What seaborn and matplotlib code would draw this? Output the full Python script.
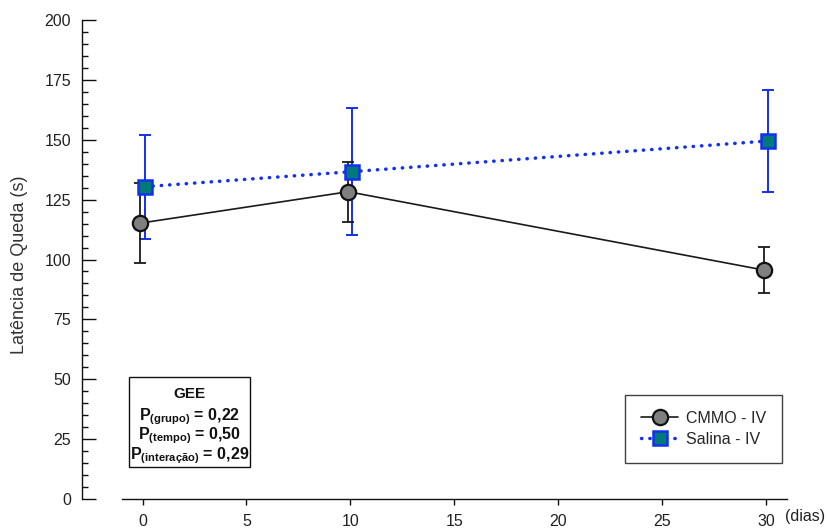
import matplotlib
matplotlib.use("Agg")
import matplotlib.pyplot as plt
from matplotlib.patches import Rectangle
from matplotlib.ticker import MultipleLocator
import seaborn as sns
import pandas as pd

# Latency to fall (s) per group at each evaluation day
dias = [0, 10, 30]
cmmo_media = [115.2, 128.3, 95.6]
cmmo_erro = [16.6, 12.6, 9.5]
salina_media = [130.4, 136.7, 149.5]
salina_erro = [21.7, 26.4, 21.4]

grupos = ["CMMO - IV", "Salina - IV"]
gee_rotulos = ["grupo", "tempo", "interação"]
gee_valores = ["0,22", "0,50", "0,29"]

sns.set_theme(style="ticks")
plt.rcParams["font.family"] = ["Liberation Sans", "DejaVu Sans"]
plt.rcParams["mathtext.fontset"] = "custom"
plt.rcParams["mathtext.rm"] = "Liberation Sans"
plt.rcParams["mathtext.it"] = "Liberation Sans:italic"
plt.rcParams["mathtext.bf"] = "Liberation Sans:bold"

df = pd.DataFrame({
    "dia": dias * 2,
    "latencia": cmmo_media + salina_media,
    "erro": cmmo_erro + salina_erro,
    "grupo": [grupos[0]] * 3 + [grupos[1]] * 3,
})
# small horizontal dodge so the two groups don't overlap
df["x"] = df["dia"] + df["grupo"].map({grupos[0]: -0.1, grupos[1]: 0.1})

fig = plt.figure(figsize=(8.28, 5.29), dpi=100)
ax = fig.add_axes([0.0994, 0.0567, 0.8507, 0.9055])

azul = "#1330f0"
estilos = {
    grupos[0]: dict(color="#1a1a1a", lw=1.2, ls="-", marker="o", ms=11,
                    mfc="#7f7f7f", mec="#111111", mew=1.6, ecol="#1a1a1a", elw=1.3, z=4),
    grupos[1]: dict(color=azul, lw=2.5, ls=(0, (0.1, 2.3)), marker="s", ms=10,
                    mfc="#007a78", mec=azul, mew=1.8, ecol=azul, elw=1.4, z=3),
}

for g in grupos:
    sub = df[df["grupo"] == g]
    st = estilos[g]
    ax.errorbar(sub["x"], sub["latencia"], yerr=sub["erro"], fmt="none",
                ecolor=st["ecol"], elinewidth=st["elw"], capsize=4.5,
                capthick=st["elw"], zorder=st["z"] - 1)
    sns.lineplot(data=sub, x="x", y="latencia", ax=ax, color=st["color"],
                 linewidth=st["lw"], linestyle=st["ls"], marker=st["marker"],
                 markersize=st["ms"], markerfacecolor=st["mfc"],
                 markeredgecolor=st["mec"], markeredgewidth=st["mew"],
                 dash_capstyle="round", label=g, zorder=st["z"], errorbar=None)

ax.set_xlim(-2.9, 31)
ax.set_ylim(0, 200)
ax.spines["top"].set_visible(False)
ax.spines["right"].set_visible(False)
ax.spines["left"].set_bounds(0, 200)
ax.spines["bottom"].set_bounds(-1, 31)
for s in ("left", "bottom"):
    ax.spines[s].set_linewidth(1.0)
    ax.spines[s].set_color("#111111")

ax.set_xticks([0, 5, 10, 15, 20, 25, 30])
ax.yaxis.set_major_locator(MultipleLocator(25))
ax.yaxis.set_minor_locator(MultipleLocator(5))
ax.tick_params(axis="y", which="major", direction="in", length=10, width=1.0,
               pad=8, labelsize=11.5, colors="#111111", labelcolor="#222222")
ax.tick_params(axis="y", which="minor", direction="in", length=4.5, width=1.0,
               colors="#111111")
ax.tick_params(axis="x", which="major", direction="out", length=4.5, width=1.0,
               pad=6, labelsize=11.5, colors="#111111", labelcolor="#222222")

ax.set_xlabel("")
ax.set_ylabel("Latência de Queda (s)", fontsize=13, color="#333333")
ax.yaxis.set_label_coords(-0.0764, 0.49)
fig.text(805 / 828, 1 - 516 / 529, "(dias)", fontsize=11.5, color="#222222",
         ha="center", va="center")

leg = ax.legend(loc="upper right", bbox_to_anchor=(0.9933, 0.217),
                borderaxespad=0, frameon=True, fancybox=False, fontsize=11.5,
                handlelength=2.3, borderpad=1.0, labelspacing=0.35,
                handletextpad=0.5)
leg.get_frame().set_edgecolor("#111111")
leg.get_frame().set_linewidth(1.0)

# GEE summary box
ax.add_patch(Rectangle((0.0660, 0.0668), 0.1718, 0.1879, transform=ax.transAxes,
                       fill=False, edgecolor="#111111", linewidth=1.0, zorder=5))
cx = 0.1522
ax.text(cx, 0.2109, "GEE", transform=ax.transAxes, ha="center", va="baseline",
        fontsize=11, fontweight="bold", color="#111111")
for yb, rot, val in zip([0.1649, 0.1237, 0.0835], gee_rotulos, gee_valores):
    ax.text(cx, yb, r"$\mathbf{P_{(" + rot + r")}}$ = " + val, transform=ax.transAxes,
            ha="center", va="baseline", fontsize=11.5, fontweight="bold",
            color="#111111")

fig.savefig("out.png", dpi=100)
